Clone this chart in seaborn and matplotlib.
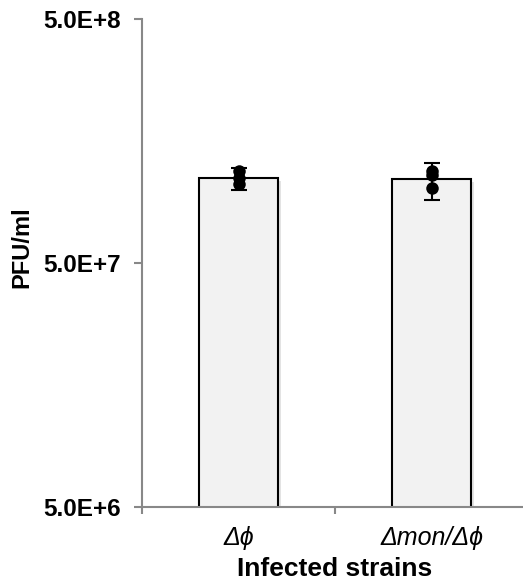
import matplotlib
matplotlib.use("Agg")
import matplotlib.pyplot as plt
import matplotlib.patheffects as pe
from matplotlib.ticker import NullLocator, FixedLocator
import seaborn as sns
import pandas as pd

# ---- data ----
strains = ["Δϕ", "Δmon/Δϕ"]
means = [1.11e8, 1.10e8]
errors = [0.115e8, 0.19e8]
points_strain1 = [1.19e8, 1.11e8, 1.05e8]
points_strain2 = [1.19e8, 1.15e8, 1.01e8]
ytick_values = [5e6, 5e7, 5e8]
ytick_labels = ["5.0E+6", "5.0E+7", "5.0E+8"]
xlabel = "Infected strains"
ylabel = "PFU/ml"

sns.set_style("white")
plt.rcParams["font.family"] = ["Liberation Sans", "DejaVu Sans"]
plt.rcParams["text.color"] = "black"
plt.rcParams["axes.labelcolor"] = "black"
plt.rcParams["xtick.color"] = "black"
plt.rcParams["ytick.color"] = "black"

fig = plt.figure(figsize=(5.23, 5.86), dpi=100)
ax = fig.add_axes([142 / 523, 1 - 507 / 586, 386 / 523, 488 / 586])

bar_df = pd.DataFrame({"strain": strains, "pfu": means})
sns.barplot(data=bar_df, x="strain", y="pfu", ax=ax, color="#f2f2f2",
            saturation=1, edgecolor="black", linewidth=1.5, width=0.41,
            errorbar=None, zorder=2)
for p in ax.patches:
    p.set_path_effects([pe.SimplePatchShadow(offset=(2, -2), alpha=0.15), pe.Normal()])

ax.errorbar(range(len(strains)), means, yerr=errors, fmt="none", ecolor="black",
            elinewidth=1.5, capsize=6, capthick=1.5, zorder=3)

pts = pd.DataFrame({
    "strain": [strains[0]] * len(points_strain1) + [strains[1]] * len(points_strain2),
    "pfu": points_strain1 + points_strain2,
})
sns.stripplot(data=pts, x="strain", y="pfu", ax=ax, jitter=False, color="black",
              size=9, zorder=4)

ax.set_yscale("log")
ax.set_ylim(ytick_values[0], ytick_values[-1])
ax.set_xlim(-0.5, 1.5)
ax.yaxis.set_major_locator(FixedLocator(ytick_values))
ax.yaxis.set_minor_locator(NullLocator())
ax.set_yticklabels(ytick_labels, fontsize=17.5, fontweight="bold")
ax.set_xticks(range(len(strains)))
ax.set_xticklabels(strains, fontsize=18, fontstyle="italic")
ax.xaxis.set_minor_locator(FixedLocator([-0.5, 0.5, 1.5]))

spine_color = "#888888"
for s in ["top", "right"]:
    ax.spines[s].set_visible(False)
for s in ["left", "bottom"]:
    ax.spines[s].set_color(spine_color)
    ax.spines[s].set_linewidth(1.5)

ax.tick_params(axis="y", which="major", left=True, length=6, width=1.5,
               color=spine_color, labelcolor="black", pad=9, direction="out")
ax.tick_params(axis="x", which="major", bottom=False, length=0, pad=14,
               labelcolor="black")
ax.tick_params(axis="x", which="minor", bottom=True, length=5, width=1.5,
               color=spine_color, direction="out")

ax.set_xlabel(xlabel, fontsize=19, fontweight="bold", labelpad=5, color="black")
ax.set_ylabel(ylabel, fontsize=17, fontweight="bold", labelpad=7, color="black")
ax.yaxis.label.set_y(0.532)
ax.grid(False)

fig.savefig("out.png", dpi=100)
